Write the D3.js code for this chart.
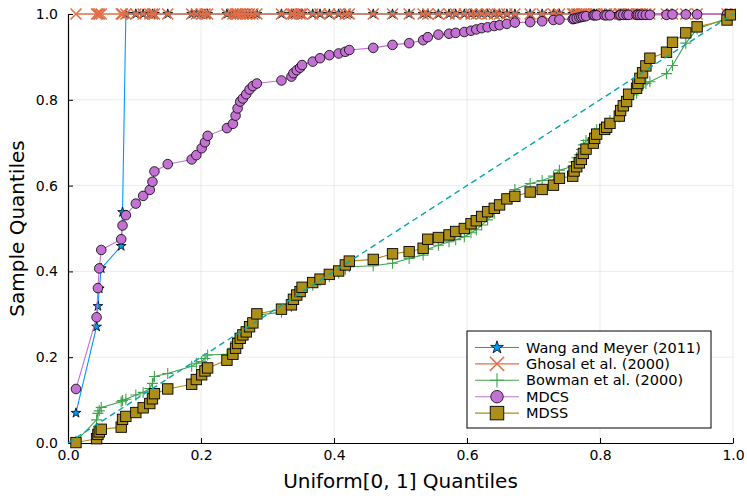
<!DOCTYPE html>
<html>
<head>
<meta charset="utf-8">
<script src="https://cdn.jsdelivr.net/npm/d3@7"></script>
<style>
  html, body { margin: 0; padding: 0; background: #fff; }
  svg { display: block; font-family: "DejaVu Sans", sans-serif; }
</style>
</head>
<body>
<svg id="chart" width="747" height="498"></svg>
<script>
// Shared theoretical quantiles (x) for all series
const xq = [0.012, 0.043, 0.045, 0.047, 0.050, 0.080, 0.082, 0.087, 0.102, 0.113, 0.123, 0.127, 0.130, 0.150, 0.186, 0.193, 0.201, 0.206, 0.210, 0.239, 0.248, 0.252, 0.255, 0.259, 0.263, 0.268, 0.273, 0.278, 0.284, 0.321, 0.336, 0.339, 0.344, 0.349, 0.352, 0.368, 0.379, 0.393, 0.407, 0.417, 0.423, 0.459, 0.488, 0.513, 0.534, 0.541, 0.557, 0.573, 0.583, 0.596, 0.606, 0.614, 0.622, 0.631, 0.641, 0.649, 0.660, 0.672, 0.695, 0.713, 0.730, 0.739, 0.759, 0.761, 0.765, 0.769, 0.772, 0.775, 0.779, 0.790, 0.792, 0.795, 0.807, 0.810, 0.815, 0.829, 0.831, 0.835, 0.840, 0.843, 0.855, 0.857, 0.860, 0.864, 0.869, 0.875, 0.900, 0.909, 0.929, 0.946, 0.991, 0.996];

const wangY = [0.070, 0.271, 0.319, 0.360, 0.407, 0.459, 0.538, 1, 1, 1, 1, 1, 1, 1, 1, 1, 1, 1, 1, 1, 1, 1, 1, 1, 1, 1, 1, 1, 1, 1, 1, 1, 1, 1, 1, 1, 1, 1, 1, 1, 1, 1, 1, 1, 1, 1, 1, 1, 1, 1, 1, 1, 1, 1, 1, 1, 1, 1, 1, 1, 1, 1, 1, 1, 1, 1, 1, 1, 1, 1, 1, 1, 1, 1, 1, 1, 1, 1, 1, 1, 1, 1, 1, 1, 1, 1, 1, 1, 1, 1, 1, 1];

const ghosalY = [1, 1, 1, 1, 1, 1, 1, 1, 1, 1, 1, 1, 1, 1, 1, 1, 1, 1, 1, 1, 1, 1, 1, 1, 1, 1, 1, 1, 1, 1, 1, 1, 1, 1, 1, 1, 1, 1, 1, 1, 1, 1, 1, 1, 1, 1, 1, 1, 1, 1, 1, 1, 1, 1, 1, 1, 1, 1, 1, 1, 1, 1, 1, 1, 1, 1, 1, 1, 1, 1, 1, 1, 1, 1, 1, 1, 1, 1, 1, 1, 1, 1, 1, 1, 1, 1, 1, 1, 1, 1, 1, 1];

const bowmanY = [0.004, 0.054, 0.069, 0.075, 0.083, 0.096, 0.099, 0.102, 0.112, 0.118, 0.127, 0.139, 0.155, 0.162, 0.179, 0.186, 0.190, 0.197, 0.205, 0.207, 0.221, 0.236, 0.245, 0.252, 0.258, 0.265, 0.275, 0.283, 0.298, 0.305, 0.318, 0.330, 0.340, 0.350, 0.358, 0.368, 0.378, 0.388, 0.396, 0.405, 0.411, 0.413, 0.419, 0.430, 0.438, 0.452, 0.461, 0.469, 0.474, 0.481, 0.490, 0.497, 0.508, 0.520, 0.535, 0.550, 0.570, 0.591, 0.605, 0.612, 0.622, 0.636, 0.645, 0.655, 0.665, 0.672, 0.684, 0.695, 0.705, 0.712, 0.722, 0.730, 0.738, 0.745, 0.752, 0.760, 0.770, 0.778, 0.790, 0.800, 0.815, 0.822, 0.830, 0.835, 0.838, 0.842, 0.861, 0.880, 0.932, 0.965, 0.990, 0.999];

const mdcsY = [0.126, 0.293, 0.361, 0.407, 0.450, 0.475, 0.507, 0.531, 0.558, 0.576, 0.590, 0.609, 0.633, 0.650, 0.661, 0.671, 0.687, 0.701, 0.716, 0.734, 0.744, 0.763, 0.780, 0.796, 0.803, 0.813, 0.824, 0.832, 0.838, 0.845, 0.854, 0.862, 0.869, 0.875, 0.881, 0.889, 0.897, 0.904, 0.908, 0.912, 0.916, 0.921, 0.928, 0.932, 0.939, 0.946, 0.952, 0.954, 0.956, 0.958, 0.961, 0.964, 0.967, 0.969, 0.972, 0.974, 0.977, 0.980, 0.981, 0.983, 0.986, 0.987, 0.988, 0.989, 0.990, 0.992, 0.993, 0.994, 0.995, 0.997, 0.997, 0.997, 0.997, 0.997, 0.997, 0.997, 0.998, 0.998, 0.998, 0.998, 0.998, 0.998, 0.998, 0.998, 0.998, 0.998, 0.998, 0.999, 0.999, 0.999, 1.000, 1.000];

const mdssY = [0.001, 0.010, 0.020, 0.026, 0.032, 0.037, 0.055, 0.062, 0.071, 0.082, 0.092, 0.103, 0.115, 0.126, 0.137, 0.148, 0.159, 0.168, 0.175, 0.193, 0.207, 0.221, 0.232, 0.244, 0.252, 0.259, 0.271, 0.280, 0.301, 0.312, 0.322, 0.335, 0.345, 0.353, 0.363, 0.374, 0.382, 0.393, 0.401, 0.415, 0.424, 0.428, 0.441, 0.446, 0.454, 0.475, 0.479, 0.485, 0.493, 0.500, 0.511, 0.518, 0.528, 0.539, 0.547, 0.555, 0.569, 0.575, 0.585, 0.591, 0.601, 0.617, 0.622, 0.634, 0.644, 0.653, 0.661, 0.675, 0.685, 0.699, 0.710, 0.720, 0.731, 0.736, 0.745, 0.762, 0.775, 0.786, 0.796, 0.813, 0.827, 0.838, 0.850, 0.863, 0.879, 0.897, 0.911, 0.934, 0.956, 0.970, 0.986, 0.998];

const refLineX = [0, 1];
const refLineY = [0, 1];

const seriesNames = ["Wang and Meyer (2011)", "Ghosal et al. (2000)", "Bowman et al. (2000)", "MDCS", "MDSS"];
const seriesColors = ["#009AFA", "#E36F47", "#3EA44E", "#C371D2", "#AC8E18"];
const seriesMarkers = ["star", "xcross", "cross", "circle", "square"];
const seriesValues = [wangY, ghosalY, bowmanY, mdcsY, mdssY];
const refColor = "#00A9AD";

const xTicks = [0, 0.2, 0.4, 0.6, 0.8, 1.0];
const yTicks = [0, 0.2, 0.4, 0.6, 0.8, 1.0];
const xLabel = "Uniform[0, 1] Quantiles";
const yLabel = "Sample Quantiles";

// ---- layout ----
const L = 68, R = 733, T = 14, B = 443;
const svg = d3.select("#chart");
const x = d3.scaleLinear().domain([0, 1]).range([L, R]);
const y = d3.scaleLinear().domain([0, 1]).range([B, T]);

// grid
const grid = svg.append("g");
grid.selectAll("line.gx").data(xTicks.slice(1)).join("line")
  .attr("x1", d => x(d)).attr("x2", d => x(d)).attr("y1", T).attr("y2", B)
  .attr("stroke", "#000").attr("stroke-opacity", 0.1).attr("stroke-width", 0.8);
grid.selectAll("line.gy").data(yTicks.slice(1)).join("line")
  .attr("y1", d => y(d)).attr("y2", d => y(d)).attr("x1", L).attr("x2", R)
  .attr("stroke", "#000").attr("stroke-opacity", 0.1).attr("stroke-width", 0.8);

// axes
const fmt = d3.format(".1f");
const xAxis = d3.axisBottom(x).tickValues(xTicks).tickFormat(fmt).tickSizeInner(-5).tickSizeOuter(0).tickPadding(7);
const yAxis = d3.axisLeft(y).tickValues(yTicks).tickFormat(fmt).tickSizeInner(-5).tickSizeOuter(0).tickPadding(10);
const gx = svg.append("g").attr("transform", `translate(0,${B})`).call(xAxis);
const gy = svg.append("g").attr("transform", `translate(${L},0)`).call(yAxis);
[gx, gy].forEach(g => {
  g.select(".domain").attr("stroke", "#000").attr("stroke-width", 1.2);
  g.selectAll(".tick line").attr("stroke", "#000").attr("stroke-width", 1);
  g.selectAll(".tick text").attr("font-size", 14).attr("fill", "#000")
    .attr("font-family", "DejaVu Sans, sans-serif");
});

// axis labels
svg.append("text").attr("x", (L + R) / 2).attr("y", 488).attr("text-anchor", "middle")
  .attr("font-size", 20).attr("fill", "#000").text(xLabel);
svg.append("text").attr("transform", `translate(24,${(T + B) / 2}) rotate(-90)`)
  .attr("text-anchor", "middle").attr("font-size", 20).attr("fill", "#000").text(yLabel);

// marker drawing
function drawMarker(g, type, color, s) {
  s = s || 1;
  if (type === "star") {
    g.append("path").attr("d", d3.symbol(d3.symbolStar, 30 * s * s)())
      .attr("fill", color).attr("stroke", "#000").attr("stroke-width", 0.8);
  } else if (type === "xcross") {
    const r = 5.5 * s;
    g.append("path").attr("d", `M${-r},${-r}L${r},${r}M${-r},${r}L${r},${-r}`)
      .attr("stroke", color).attr("stroke-width", 1.6).attr("fill", "none");
  } else if (type === "cross") {
    const r = 5.5 * s;
    g.append("path").attr("d", `M${-r},0L${r},0M0,${-r}L0,${r}`)
      .attr("stroke", color).attr("stroke-width", 1.1).attr("fill", "none");
  } else if (type === "circle") {
    g.append("circle").attr("r", 4.8 * s)
      .attr("fill", color).attr("stroke", "#000").attr("stroke-width", 0.8);
  } else if (type === "square") {
    const h = 5.2 * s;
    g.append("rect").attr("x", -h).attr("y", -h).attr("width", 2 * h).attr("height", 2 * h)
      .attr("fill", color).attr("stroke", "#000").attr("stroke-width", 0.9);
  }
}

const line = d3.line().x(d => x(d[0])).y(d => y(d[1]));
const plot = svg.append("g");

seriesValues.forEach((vals, i) => {
  const pts = xq.map((xv, j) => [xv, vals[j]]);
  const g = plot.append("g");
  g.append("path").datum(pts).attr("d", line)
    .attr("fill", "none").attr("stroke", seriesColors[i])
    .attr("stroke-width", i === 1 ? 1.4 : 1.1);
  g.selectAll("g.m").data(pts).join("g")
    .attr("transform", d => `translate(${x(d[0])},${y(d[1])})`)
    .each(function () { drawMarker(d3.select(this), seriesMarkers[i], seriesColors[i]); });
});

// reference y=x line (dashed)
plot.append("path").datum(refLineX.map((v, i) => [v, refLineY[i]])).attr("d", line)
  .attr("fill", "none").attr("stroke", refColor).attr("stroke-width", 1.4)
  .attr("stroke-dasharray", "6,4");

// legend
const lg = svg.append("g");
const lx = 467, ly = 331, lw = 244, lh = 97;
lg.append("rect").attr("x", lx).attr("y", ly).attr("width", lw).attr("height", lh)
  .attr("fill", "#fff").attr("stroke", "#000").attr("stroke-width", 1);
seriesNames.forEach((name, i) => {
  const cy = 347.5 + i * 16.4;
  lg.append("line").attr("x1", 475).attr("x2", 519).attr("y1", cy).attr("y2", cy)
    .attr("stroke", seriesColors[i]).attr("stroke-width", 1.1);
  const mg = lg.append("g").attr("transform", `translate(497,${cy})`);
  drawMarker(mg, seriesMarkers[i], seriesColors[i], 1.3);
  lg.append("text").attr("x", 526).attr("y", cy).attr("dy", "0.35em")
    .attr("font-size", 14.5).attr("fill", "#000").text(name);
});
</script>
</body>
</html>
